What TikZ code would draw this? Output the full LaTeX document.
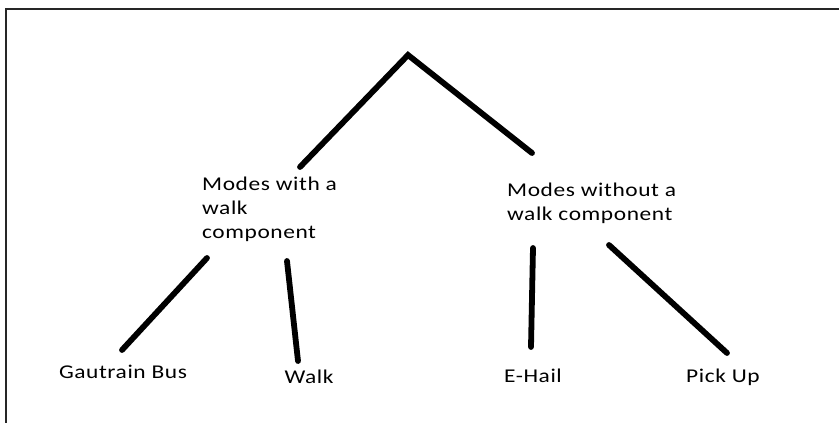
\documentclass[tikz,border=0pt]{standalone}
\usepackage{fontspec}
\setmainfont{Carlito}
\newfontfamily\sketchfont[FakeStretch=1.2, LetterSpace=3]{Carlito}
\usetikzlibrary{positioning}

\begin{document}
\begin{tikzpicture}[
    x=1pt, y=-1pt,
    stroke/.style={line width=5.8pt, line cap=round, draw=black},
    branch/.style={anchor=base west, inner sep=0pt, align=left, font=\sketchfont\fontsize{19.5}{24}\selectfont},
    leaf/.style={anchor=base, inner sep=0pt, font=\sketchfont\fontsize{19.5}{24}\selectfont}
]
\useasboundingbox (0,0) rectangle (839,423);
% frame (top and left only)
\draw[line width=1.8pt, black!85] (839,9) -- (6,9) -- (6,423);

% upper branches
\coordinate (top) at (408,55);
\coordinate (lend) at (300,167);
\coordinate (rend) at (532,153);
\draw[stroke] (lend) -- (top) -- (rend);

% base anchor sits on the last line
\node (withwalk) [branch] at (202,238) {Modes with a\\walk\\component};
\node (nowalk) [branch] at (507,220.5) {Modes without a\\walk component};

% lower branches
\coordinate (busa) at (207,258);
\coordinate (busb) at (122,350);
\coordinate (walka) at (287,261);
\coordinate (walkb) at (298,361);
\coordinate (haila) at (533,248);
\coordinate (hailb) at (531,347);
\coordinate (picka) at (609,245);
\coordinate (pickb) at (727,353);
\draw[stroke] (busa) -- (busb);
\draw[stroke] (walka) -- (walkb);
\draw[stroke] (haila) -- (hailb);
\draw[stroke] (picka) -- (pickb);

\node (bus) [leaf] at (123,378) {Gautrain Bus};
\node (walk) [leaf] at (309,383) {Walk};
\node (ehail) [leaf] at (533,382) {E-Hail};
\node (pickup) [leaf] at (723,382) {Pick Up};
\end{tikzpicture}
\end{document}
